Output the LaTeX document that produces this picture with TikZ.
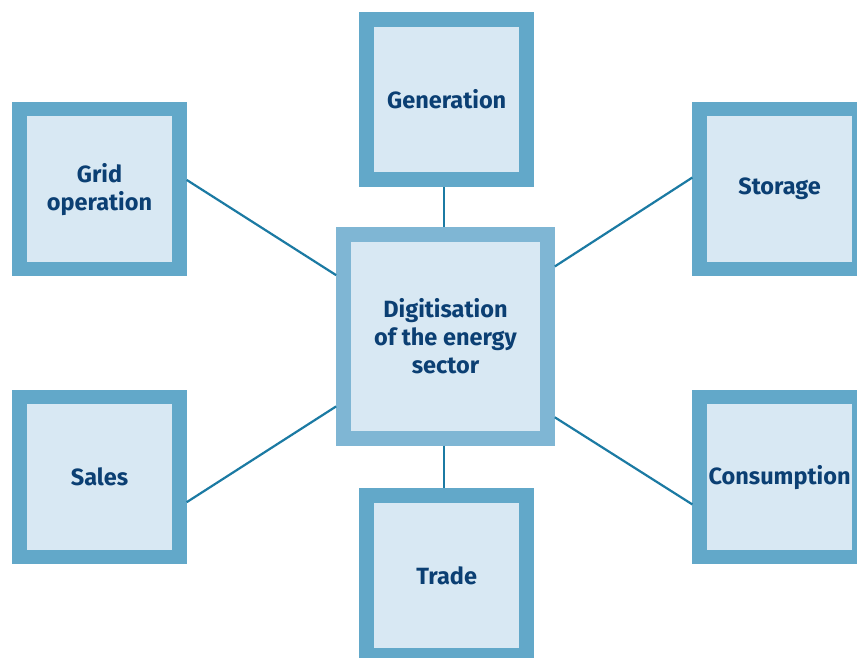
\documentclass[tikz,border=0pt]{standalone}
\usepackage{fontspec}
\setmainfont{Fira Sans}
\usetikzlibrary{calc}
\definecolor{boxedge}{HTML}{62A8C9}
\definecolor{midedge}{HTML}{7FB6D4}
\definecolor{boxfill}{HTML}{D8E8F3}
\definecolor{linkcol}{HTML}{1B7AA3}
\definecolor{textcol}{HTML}{0B3F73}
\tikzset{
  topic/.style={draw=boxedge,fill=boxfill,line width=14.5pt,minimum size=160pt,
    inner sep=0pt,align=center,text=textcol,font=\fontsize{23.5}{28}\selectfont\bfseries},
  hub/.style={topic,draw=midedge,line width=14.7pt,minimum size=204pt},
  link/.style={draw=linkcol,line width=2.2pt}
}
\begin{document}
\begin{tikzpicture}[x=1pt,y=-1pt]
\useasboundingbox[fill=white] (0,0) rectangle (857,657);
% links first, boxes on top
\node[hub] (dig) at (445.5,336.4) {Digitisation\\of the energy\\sector};
\node[topic] (gen) at (446.7,99.5) {Generation};
\node[topic] (grid) at (99.5,189.2) {Grid\\operation};
\node[topic] (stor) at (779.6,189.2) {Storage};
\node[topic] (sales) at (99.5,477.2) {Sales};
\node[topic] (cons) at (779.6,477.2) {Consumption};
\node[topic] (trade) at (446.7,575.6) {Trade};
\draw[link] ([xshift=-1.5pt]dig.north) -- ([xshift=-1.5pt]dig.north |- gen.south);
\draw[link] ([xshift=-1.5pt]dig.south) -- ([xshift=-1.5pt]dig.south |- trade.north);
\draw[link] ($(grid.north east)!0.447!(grid.south east)$) -- ($(dig.north west)!0.22!(dig.south west)$);
\draw[link] ($(stor.north west)!0.433!(stor.south west)$) -- ($(dig.north east)!0.18!(dig.south east)$);
\draw[link] ($(sales.north east)!0.643!(sales.south east)$) -- ($(dig.north west)!0.82!(dig.south west)$);
\draw[link] ($(cons.north west)!0.656!(cons.south west)$) -- ($(dig.north east)!0.87!(dig.south east)$);
\end{tikzpicture}
\end{document}
